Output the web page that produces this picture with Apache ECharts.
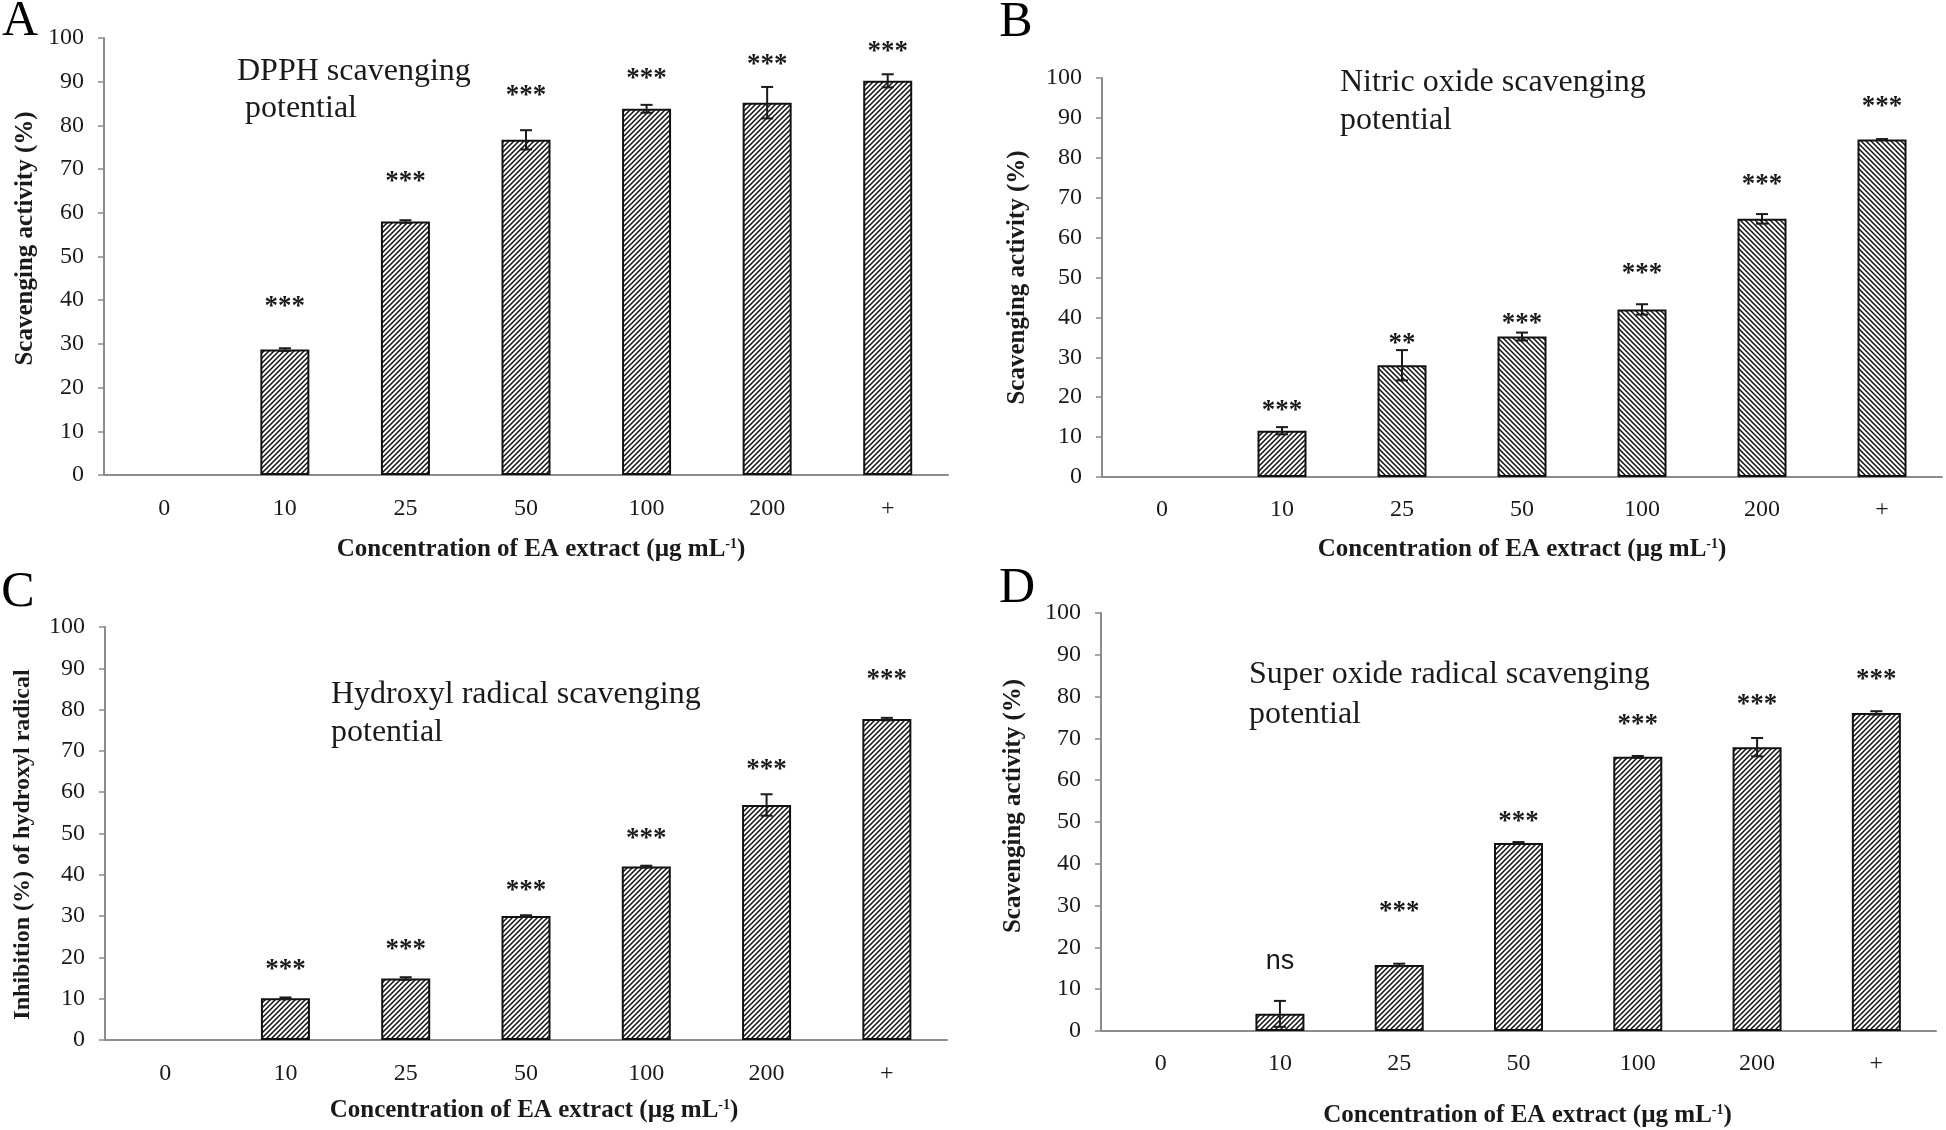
<!DOCTYPE html>
<html><head><meta charset="utf-8">
<script src="https://cdn.jsdelivr.net/npm/echarts@6/dist/echarts.min.js"></script>
<style>html,body{margin:0;padding:0;background:#fff}#c{width:1946px;height:1130px}</style>
</head><body><div id="c"></div>
<script>
// ---------- data ----------
const categories = ['0', '10', '25', '50', '100', '200', '+'];

const dpphValues = [0, 28.7, 58.0, 76.7, 83.8, 85.2, 90.2];
const dpphErrors = [0, 0.3, 0.3, 2.2, 0.9, 3.6, 1.5];
const dpphSig    = ['', '***', '***', '***', '***', '***', '***'];
const dpphSigY   = [null, 39.8, 68.5, 88.0, 92.0, 95.3, 98.2];

const noValues = [0, 11.6, 28.0, 35.2, 42.0, 64.7, 84.6];
const noErrors = [0, 0.9, 3.8, 1.0, 1.3, 1.2, 0.1];
const noSig    = ['', '***', '**', '***', '***', '***', '***'];
const noSigY   = [null, 18.0, 34.9, 39.8, 52.3, 74.7, 94.2];

const ohValues = [0, 10.1, 14.9, 30.0, 42.0, 56.9, 77.7];
const ohErrors = [0, 0.2, 0.3, 0.2, 0.2, 2.6, 0.3];
const ohSig    = ['', '***', '***', '***', '***', '***', '***'];
const ohSigY   = [null, 18.3, 23.3, 37.5, 50.1, 66.8, 88.5];

const soValues = [0, 4.1, 15.8, 45.0, 65.6, 67.9, 76.1];
const soErrors = [0, 3.1, 0.3, 0.2, 0.2, 2.2, 0.4];
const soSig    = ['', 'ns', '***', '***', '***', '***', '***'];
const soSigY   = [null, 17.0, 29.8, 51.5, 74.7, 79.4, 85.5];

const yMin = 0, yMax = 100, yStep = 10;

// ---------- layout / style ----------
const SERIF = '"Liberation Serif", "Times New Roman", serif';
const SANS = '"Liberation Sans", Arial, sans-serif';
const INK = '#1a1a1a';
const AXIS = '#8c8c8c';

function hatch(dir) {
  const s = 5;
  const c = document.createElement('canvas');
  c.width = s; c.height = s;
  const g = c.getContext('2d');
  g.fillStyle = '#fff'; g.fillRect(0, 0, s, s);
  g.strokeStyle = '#111'; g.lineWidth = 1.5;
  g.beginPath();
  for (const k of [-s, 0, s]) {
    if (dir === '/') { g.moveTo(k - 1, s + 1); g.lineTo(k + s + 1, -1); }
    else { g.moveTo(k - 1, -1); g.lineTo(k + s + 1, s + 1); }
  }
  g.stroke();
  return c;
}
const patSlash = hatch('/');
const patBack = hatch('\\');

const panels = [
  { letter: 'A', letterPos: [20, 22], grid: { left: 104, top: 38, width: 844, height: 437 },
    yName: 'Scavenging activity (%)', yNameSize: 25, yNameGap: 66, yNamePad: [0, 0, 0, 36],
    xNameGap: 62, xNamePad: [0, 0, 0, 30], labelMargin: 22,
    title: 'DPPH scavenging\n potential', titlePos: [237, 53], lh: 37,
    values: dpphValues, errors: dpphErrors, sig: dpphSig, sigY: dpphSigY, hatch: i => patSlash },
  { letter: 'B', letterPos: [1016, 23], grid: { left: 1102, top: 78, width: 840, height: 399 },
    yName: 'Scavenging activity (%)', yNameSize: 25, yNameGap: 72, yNamePad: [0, 0, 0, 0],
    xNameGap: 60, xNamePad: [0, 0, 0, 0], labelMargin: 21,
    title: 'Nitric oxide scavenging\npotential', titlePos: [1340, 64], lh: 37.5,
    values: noValues, errors: noErrors, sig: noSig, sigY: noSigY, hatch: i => (i === 1 ? patSlash : patBack) },
  { letter: 'C', letterPos: [18, 593], grid: { left: 105, top: 627, width: 842, height: 413 },
    yName: 'Inhibition (%) of hydroxyl radical', yNameSize: 24, yNameGap: 70, yNamePad: [0, 22, 0, 0],
    xNameGap: 58, xNamePad: [0, 0, 0, 16], labelMargin: 22,
    title: 'Hydroxyl radical scavenging\npotential', titlePos: [331, 675], lh: 38.2,
    values: ohValues, errors: ohErrors, sig: ohSig, sigY: ohSigY, hatch: i => patSlash },
  { letter: 'D', letterPos: [1017, 589], grid: { left: 1101, top: 613, width: 835, height: 418 },
    yName: 'Scavenging activity (%)', yNameSize: 25, yNameGap: 75, yNamePad: [0, 0, 0, 32],
    xNameGap: 72, xNamePad: [0, 0, 0, 18], labelMargin: 21,
    title: 'Super oxide radical scavenging\npotential', titlePos: [1249, 655], lh: 40,
    values: soValues, errors: soErrors, sig: soSig, sigY: soSigY, hatch: i => patSlash }
];

function errRender(p) {
  return function (params, api) {
    const i = params.dataIndex;
    const v = p.values[i], e = p.errors[i];
    const children = [];
    const ls = { stroke: INK, lineWidth: 2 };
    if (v > 0) {
      const top = api.coord([i, v + e]);
      const bot = api.coord([i, v - e]);
      const x = top[0], hw = 6;
      children.push({ type: 'line', shape: { x1: x, y1: top[1], x2: x, y2: bot[1] }, style: ls });
      children.push({ type: 'line', shape: { x1: x - hw, y1: top[1], x2: x + hw, y2: top[1] }, style: ls });
      children.push({ type: 'line', shape: { x1: x - hw, y1: bot[1], x2: x + hw, y2: bot[1] }, style: ls });
    }
    if (p.sig[i]) {
      const pt = api.coord([i, p.sigY[i]]);
      const star = p.sig[i].indexOf('*') >= 0;
      children.push({ type: 'text', x: pt[0], y: pt[1] + (star ? 6 : 2),
        style: { text: p.sig[i], fill: INK, fontSize: star ? 27 : 27, fontWeight: star ? 'bold' : 'normal',
          fontFamily: star ? SERIF : SANS,
          align: 'center', verticalAlign: 'middle', textAlign: 'center', textVerticalAlign: 'middle' } });
    }
    return { type: 'group', children };
  };
}

const grid = [], xAxis = [], yAxis = [], series = [], graphic = [];
panels.forEach((p, k) => {
  grid.push(Object.assign({ outerBoundsMode: 'none', containLabel: false }, p.grid));
  xAxis.push({
    type: 'category', gridIndex: k, data: categories, boundaryGap: true,
    axisLine: { show: true, lineStyle: { color: AXIS, width: 2 } },
    axisTick: { show: false },
    axisLabel: { color: INK, fontFamily: SERIF, fontSize: 24, margin: p.labelMargin },
    splitLine: { show: false },
    name: 'Concentration of EA extract (µg mL{sup|-1})',
    nameLocation: 'middle', nameGap: p.xNameGap,
    nameTextStyle: { color: INK, fontFamily: SERIF, fontWeight: 'bold', fontSize: 25, padding: p.xNamePad,
      rich: { sup: { fontFamily: SERIF, fontWeight: 'bold', fontSize: 14, color: INK, verticalAlign: 'top', lineHeight: 26 } } }
  });
  yAxis.push({
    type: 'value', gridIndex: k, min: yMin, max: yMax, interval: yStep,
    axisLine: { show: true, lineStyle: { color: AXIS, width: 2 } },
    axisTick: { show: true, inside: false, length: 6, lineStyle: { color: AXIS, width: 1.5 } },
    axisLabel: { color: INK, fontFamily: SERIF, fontSize: 24, margin: 20 },
    splitLine: { show: false },
    name: p.yName, nameLocation: 'middle', nameGap: p.yNameGap,
    nameTextStyle: { color: INK, fontFamily: SERIF, fontWeight: 'bold', fontSize: p.yNameSize, padding: p.yNamePad }
  });
  series.push({
    type: 'bar', xAxisIndex: k, yAxisIndex: k, barWidth: 49, z: 2,
    data: p.values.map((v, i) => ({
      value: v,
      itemStyle: { color: { image: p.hatch(i), repeat: 'repeat' }, borderColor: '#111', borderWidth: v > 0 ? 2 : 0 }
    })),
    emphasis: { disabled: true }, silent: true, animation: false
  });
  series.push({
    type: 'custom', xAxisIndex: k, yAxisIndex: k, z: 4,
    data: p.values.map((v, i) => [i, v]),
    renderItem: errRender(p), silent: true, animation: false
  });
  graphic.push({
    type: 'text', x: p.titlePos[0], y: p.titlePos[1],
    style: { text: p.title, fill: INK, fontSize: 32, fontFamily: SERIF, lineHeight: p.lh,
      align: 'left', verticalAlign: 'top', textAlign: 'left', textVerticalAlign: 'top' }
  });
  graphic.push({
    type: 'text', x: p.letterPos[0], y: p.letterPos[1],
    style: { text: p.letter, fill: '#000', fontSize: 50, fontFamily: SERIF,
      align: 'center', verticalAlign: 'middle', textAlign: 'center', textVerticalAlign: 'middle' }
  });
});

const chart = echarts.init(document.getElementById('c'), null, { renderer: 'canvas' });
chart.setOption({
  backgroundColor: '#fff',
  animation: false,
  grid, xAxis, yAxis, series, graphic
});
</script>
</body></html>
